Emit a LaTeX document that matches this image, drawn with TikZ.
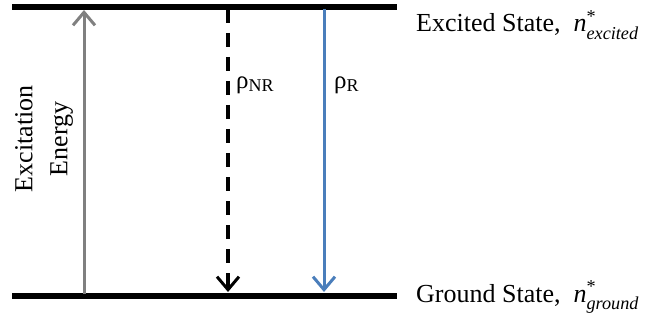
\documentclass[tikz,border=0pt]{standalone}
\usepackage{amsmath}
\usepackage{fontspec}
\setmainfont{Liberation Serif}
\usetikzlibrary{arrows.meta}
\definecolor{radblue}{RGB}{74,126,187}
\definecolor{excgray}{RGB}{128,128,128}
\newcommand{\ratesub}[1]{\raisebox{-3pt}{\fontsize{18}{18}\selectfont #1}}
\tikzset{
  x=1pt, y=-1pt,
  level/.style={line width=6pt, black},
  trans/.style={line width=3pt, -{Straight Barb[length=13pt, width=22pt, line width=3pt]}},
  lbl/.style={font=\fontsize{26}{35}\selectfont, inner sep=0pt},
  ratelbl/.style={font=\fontsize{25}{30}\selectfont, inner sep=0pt},
}
\begin{document}
\begin{tikzpicture}
\useasboundingbox (0,0) rectangle (647,331);
% energy levels
\coordinate (e1) at (12,7);   \coordinate (e2) at (397,7);
\coordinate (g1) at (12,296); \coordinate (g2) at (397,296);
\draw[level] (e1) -- (e2);
\draw[level] (g1) -- (g2);
% level labels
\node[lbl, anchor=base west] (exc) at (416,32) {Excited State,\ \ $\textit{n}^{\text{*}}_{\textit{excited}}$};
\node[lbl, anchor=base west] (gnd) at (416,302) {Ground State,\ \ $\textit{n}^{\text{*}}_{\textit{ground}}$};
% excitation (upward)
\coordinate (a0) at (84,294); \coordinate (a1) at (84,10);
\draw[trans, excgray] (a0) -- (a1);
\node[lbl, rotate=90, align=center] (energy) at (44,139) {Excitation\\Energy};
% non-radiative decay
\coordinate (n0) at (228,9); \coordinate (n1) at (228,292);
\draw[trans, black, line width=4pt, dash pattern=on 14pt off 10pt] (n0) -- (n1);
\node[ratelbl, anchor=base west] (rnr) at (236,89) {ρ\ratesub{NR}};
% radiative decay
\coordinate (r0) at (324,9); \coordinate (r1) at (324,292);
\draw[trans, radblue] (r0) -- (r1);
\node[ratelbl, anchor=base west] (rr) at (334,89) {ρ\ratesub{R}};
\end{tikzpicture}
\end{document}
